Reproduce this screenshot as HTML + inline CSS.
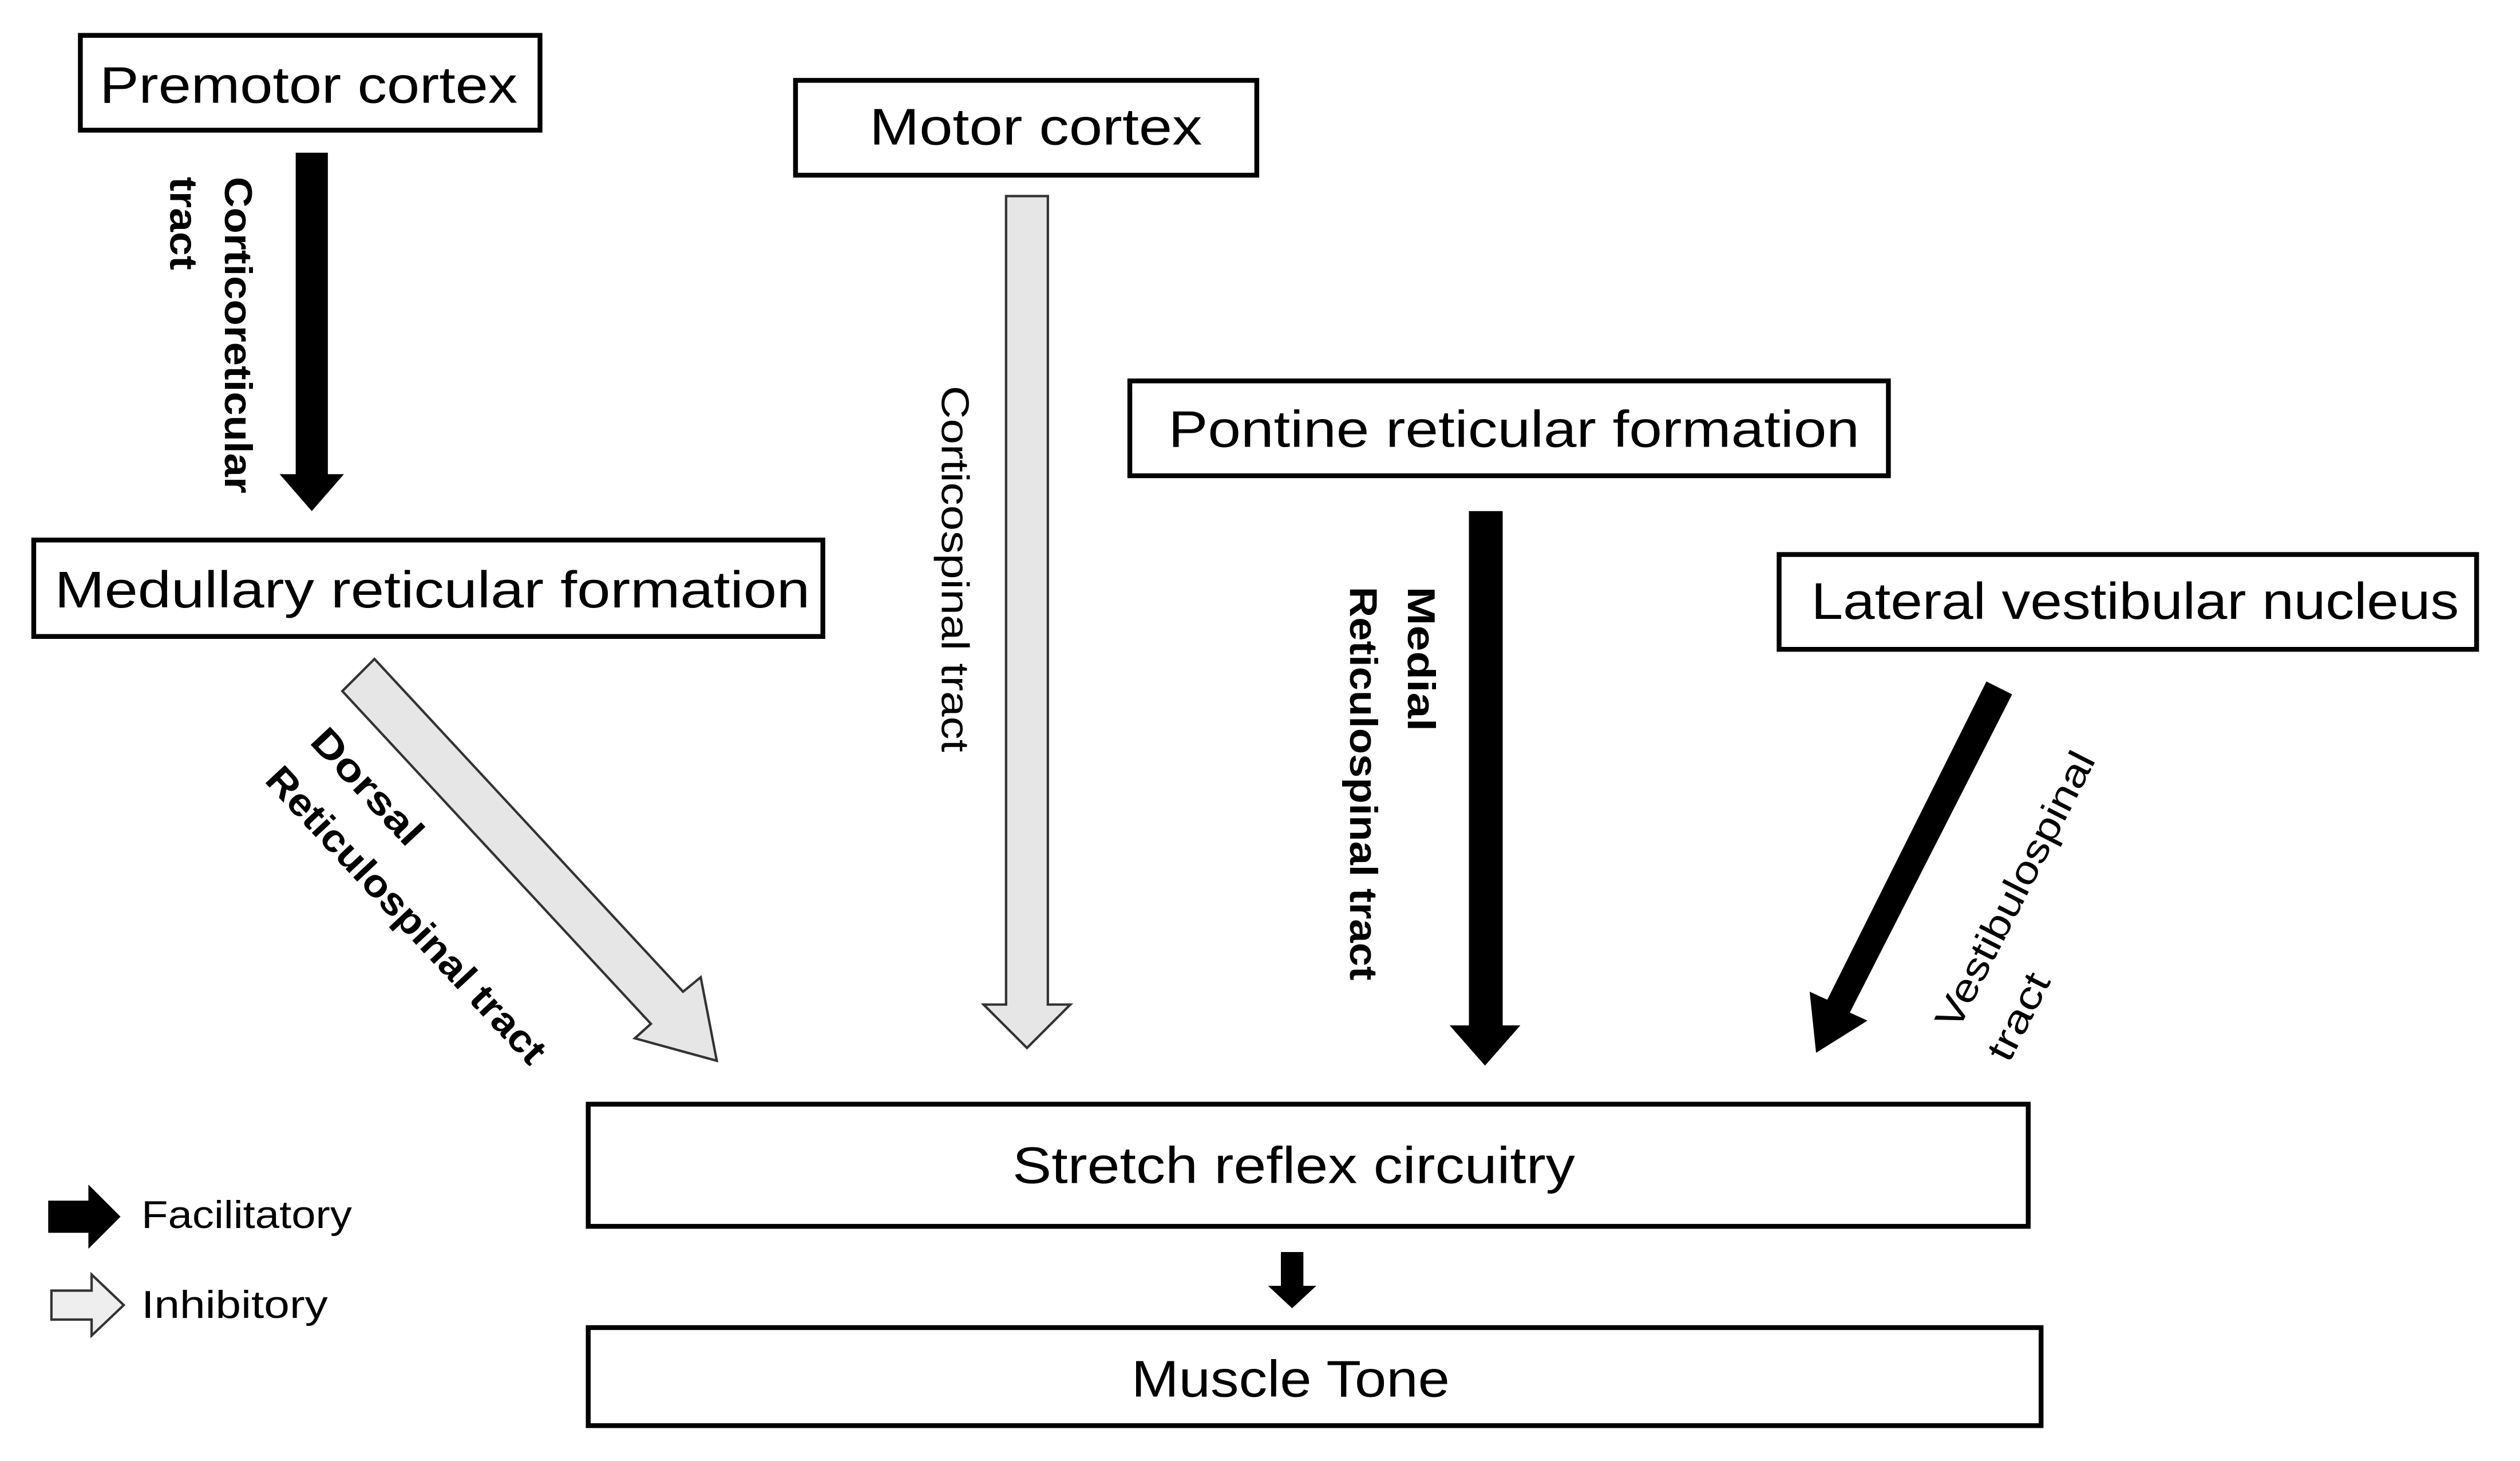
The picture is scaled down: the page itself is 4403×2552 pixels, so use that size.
<!DOCTYPE html>
<html><head><meta charset="utf-8"><style>html,body{margin:0;padding:0;background:#fff}svg{display:block}</style></head>
<body>
<svg width="4403" height="2552" viewBox="0 0 1568 909" preserveAspectRatio="none" xmlns="http://www.w3.org/2000/svg" font-family="'Liberation Sans', sans-serif">
<g fill="#fff" stroke="#000" stroke-width="3">
<rect x="50" y="22" width="286" height="59"/>
<rect x="495" y="50" width="287" height="59"/>
<rect x="703" y="237" width="472" height="59"/>
<rect x="21" y="336" width="491" height="60"/>
<rect x="1107" y="345" width="434" height="59"/>
<rect x="366" y="687" width="896" height="76"/>
<rect x="366" y="826" width="904" height="61"/>
</g>
<g font-size="32" fill="#000">
<text x="62" y="64" textLength="260" lengthAdjust="spacingAndGlyphs">Premotor cortex</text>
<text x="541" y="90" textLength="207" lengthAdjust="spacingAndGlyphs">Motor cortex</text>
<text x="727" y="278" textLength="430" lengthAdjust="spacingAndGlyphs">Pontine reticular formation</text>
<text x="34" y="378" textLength="470" lengthAdjust="spacingAndGlyphs">Medullary reticular formation</text>
<text x="1127" y="385" textLength="403" lengthAdjust="spacingAndGlyphs">Lateral vestibular nucleus</text>
<text x="630" y="736" textLength="350" lengthAdjust="spacingAndGlyphs">Stretch reflex circuitry</text>
<text x="704" y="869" textLength="198" lengthAdjust="spacingAndGlyphs">Muscle Tone</text>
</g>
<polygon points="184,95 204,95 204,295 214,295 194,318 174,295 184,295" fill="#000"/>
<polygon points="626,122 652,122 652,625 666,625 639,652 612,625 626,625" fill="#e6e6e6" stroke="#333" stroke-width="1.5"/>
<polygon points="914,318 935,318 935,638 946,638 924,663 902,638 914,638" fill="#000"/>
<polygon points="233,410 425,617 436,608 446,660 395,646 405,637 213,430" fill="#e6e6e6" stroke="#333" stroke-width="1.5"/>
<polygon points="1236,424 1252,432 1151,630 1162,635 1130,655 1126,617 1137,622" fill="#000"/>
<polygon points="797,779 811,779 811,800 819,800 804,814 789,800 797,800" fill="#000"/>
<polygon points="30,747 55,747 55,737 75,757 55,777 55,767 30,767" fill="#000"/>
<polygon points="32,803 57,803 57,793 77,812 57,831 57,821 32,821" fill="#eee" stroke="#333" stroke-width="1.5"/>
<text x="88" y="764" font-size="24" textLength="131" lengthAdjust="spacingAndGlyphs">Facilitatory</text>
<text x="88" y="820" font-size="24" textLength="116" lengthAdjust="spacingAndGlyphs">Inhibitory</text>
<g font-size="24" font-weight="bold">
<text transform="translate(140,110) rotate(90)" textLength="197" lengthAdjust="spacingAndGlyphs">Corticoreticular</text>
<text transform="translate(106,110) rotate(90)" textLength="58" lengthAdjust="spacingAndGlyphs">tract</text>
<text transform="translate(876,365) rotate(90)" textLength="90" lengthAdjust="spacingAndGlyphs">Medial</text>
<text transform="translate(840,365) rotate(90)" textLength="245" lengthAdjust="spacingAndGlyphs">Reticulospinal tract</text>
<text transform="translate(192,462) rotate(47)" textLength="90" lengthAdjust="spacingAndGlyphs">Dorsal</text>
<text transform="translate(164,486) rotate(47)" textLength="243" lengthAdjust="spacingAndGlyphs">Reticulospinal tract</text>
</g>
<g font-size="24">
<text transform="translate(586,240) rotate(90)" textLength="228" lengthAdjust="spacingAndGlyphs">Corticospinal tract</text>
<text transform="translate(1218,642) rotate(-63)" textLength="190" lengthAdjust="spacingAndGlyphs">Vestibulospinal</text>
<text transform="translate(1250,662) rotate(-63)" textLength="58" lengthAdjust="spacingAndGlyphs">tract</text>
</g>
</svg>
</body></html>
